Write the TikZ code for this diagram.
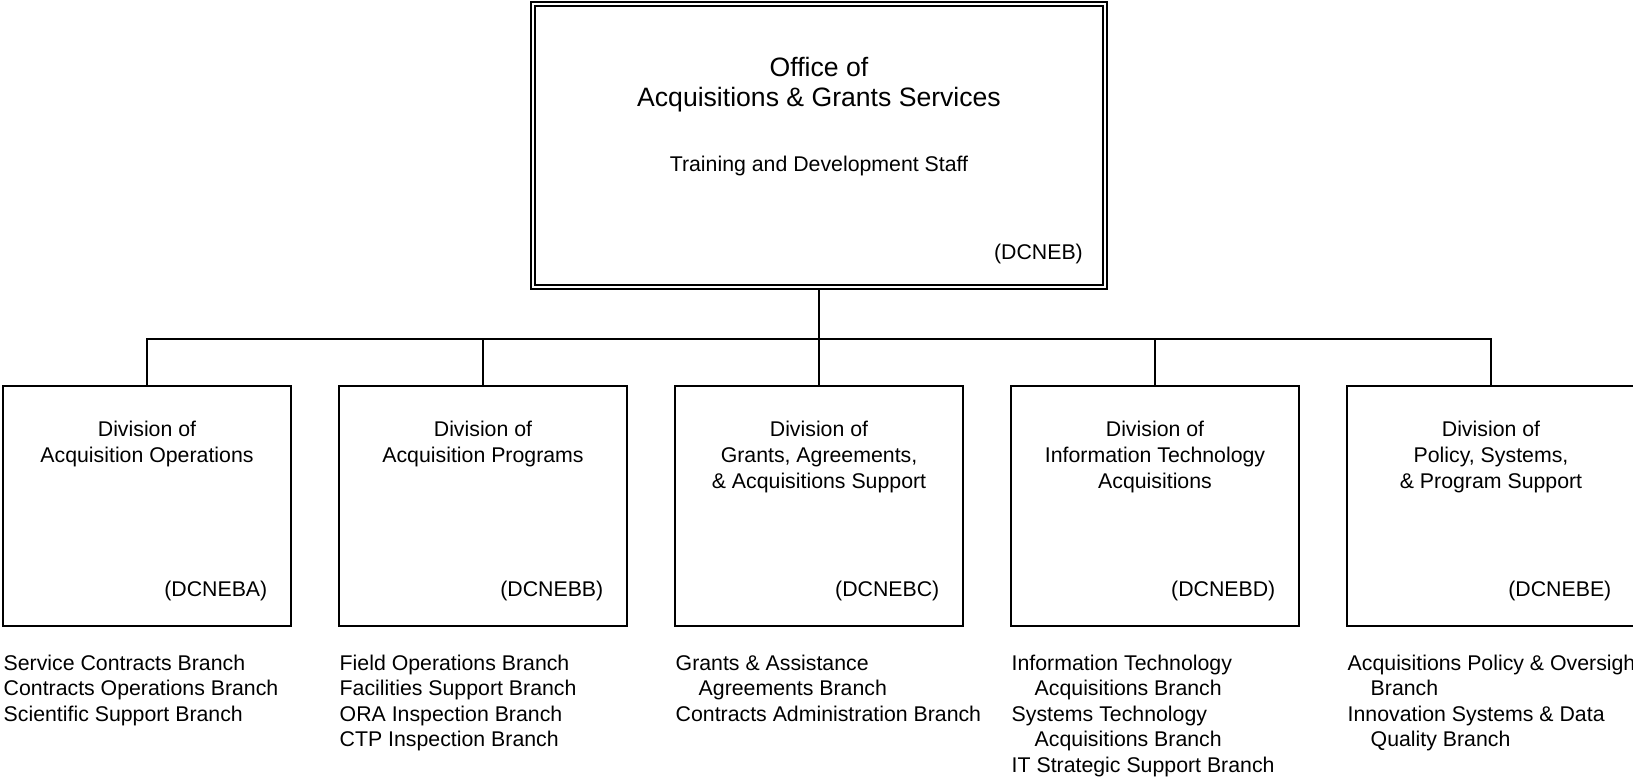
\documentclass[tikz,border=0pt]{standalone}
\usepackage{fontspec}
\setmainfont{Liberation Sans}
\begin{document}
\begin{tikzpicture}[x=1pt,y=-1pt,
  conn/.style={line width=2.2pt},
  topbox/.style={draw,line width=2pt,double,double distance=2pt,minimum width=572pt,minimum height=282.7pt,inner sep=0pt,outer sep=3pt},
  divbox/.style={draw,line width=2.2pt,minimum width=288pt,minimum height=240pt,inner sep=0pt,outer sep=1.1pt},
  big/.style={font=\fontsize{26.6}{30.5}\selectfont,inner sep=0pt,align=center},
  txt/.style={font=\fontsize{21.3}{25.5}\selectfont,inner sep=0pt},
  divtitle/.style={font=\fontsize{21.3}{26}\selectfont,inner sep=0pt,align=center,anchor=north},
  code/.style={txt,anchor=base east},
  branches/.style={txt,align=left,anchor=north west},
]
\useasboundingbox (0,0) rectangle (1633,777);
\clip (0,0) rectangle (1633,777);

% top office
\node[topbox] (top) at (819,145.65) {};
\node[big,anchor=north] (toptitle) at (819,56.8) {Office of\\Acquisitions \& Grants Services};
\node[txt,anchor=base] (topstaff) at (819,171.1) {Training and Development Staff};
\node[code] (topcode) at (1083,259.6) {(DCNEB)};

% divisions
\foreach \n/\x in {1/147,2/483,3/819,4/1155,5/1491}{
  \node[divbox] (d\n) at (\x,506) {};
}
\node[divtitle] (t1) at (147,421) {Division of\\Acquisition Operations};
\node[divtitle] (t2) at (483,421) {Division of\\Acquisition Programs};
\node[divtitle] (t3) at (819,421) {Division of\\Grants, Agreements,\\\& Acquisitions Support};
\node[divtitle] (t4) at (1155,421) {Division of\\Information Technology\\Acquisitions};
\node[divtitle] (t5) at (1491,421) {Division of\\Policy, Systems,\\\& Program Support};

\node[code] (c1) at (267.5,596) {(DCNEBA)};
\node[code] (c2) at (603.5,596) {(DCNEBB)};
\node[code] (c3) at (939.5,596) {(DCNEBC)};
\node[code] (c4) at (1275.5,596) {(DCNEBD)};
\node[code] (c5) at (1611.5,596) {(DCNEBE)};

% branch lists
\node[branches] (b1) at (3.5,654.5) {Service Contracts Branch\\Contracts Operations Branch\\Scientific Support Branch};
\node[branches] (b2) at (339.5,654.5) {Field Operations Branch\\Facilities Support Branch\\ORA Inspection Branch\\CTP Inspection Branch};
\node[branches] (b3) at (675.5,654.5) {Grants \& Assistance\\\hspace*{23pt}Agreements Branch\\Contracts Administration Branch};
\node[branches] (b4) at (1011.5,654.5) {Information Technology\\\hspace*{23pt}Acquisitions Branch\\Systems Technology\\\hspace*{23pt}Acquisitions Branch\\IT Strategic Support Branch};
\node[branches] (b5) at (1347.5,654.5) {Acquisitions Policy \& Oversight\\\hspace*{23pt}Branch\\Innovation Systems \& Data\\\hspace*{23pt}Quality Branch};

% connectors
\coordinate (bus) at (819,339);
\draw[conn] (top.south) -- (bus);
\draw[conn] (d1.north) |- (bus) -| (d5.north);
\draw[conn] (d2.north) -- (d2.north |- bus);
\draw[conn] (d3.north) -- (bus);
\draw[conn] (d4.north) -- (d4.north |- bus);
\end{tikzpicture}
\end{document}
